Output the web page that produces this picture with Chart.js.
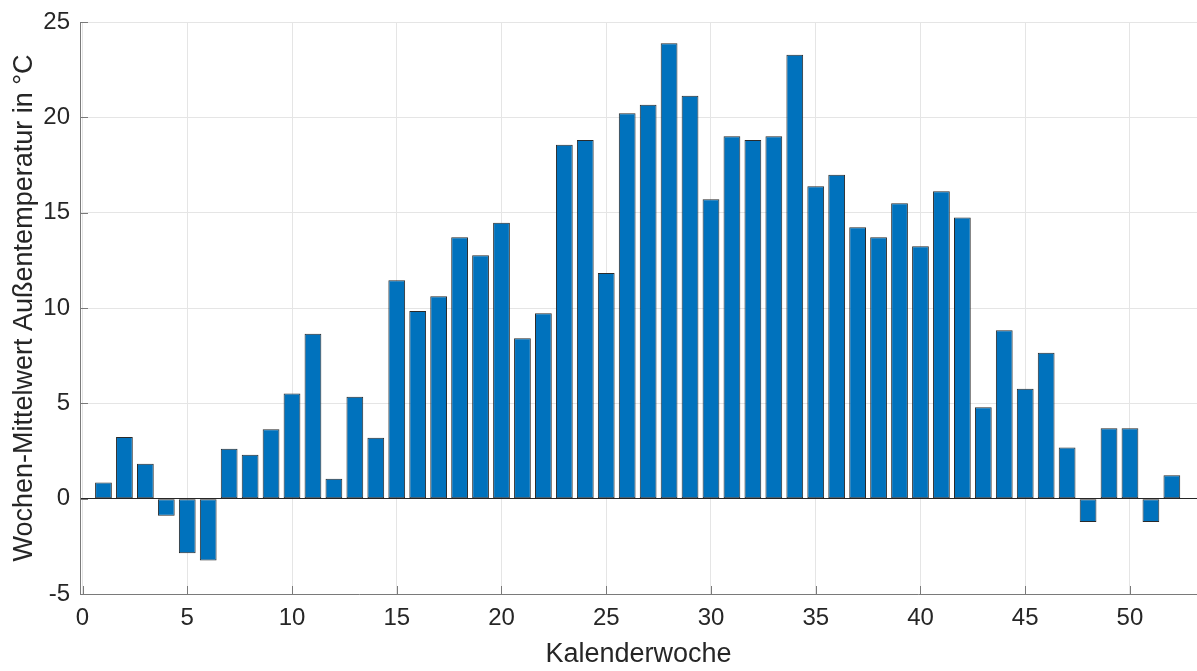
<!DOCTYPE html>
<html>
<head>
<meta charset="utf-8">
<script src="https://cdn.jsdelivr.net/npm/chart.js@4"></script>
<style>
  html, body { margin: 0; padding: 0; background: #fff; }
  #wrap { width: 1197px; height: 671px; }
</style>
</head>
<body>
<div id="wrap"><canvas id="temp"></canvas></div>
<script>
// Kalenderwochen 1..52
const weeks = [1,2,3,4,5,6,7,8,9,10,11,12,13,14,15,16,17,18,19,20,21,22,23,24,25,26,
  27,28,29,30,31,32,33,34,35,36,37,38,39,40,41,42,43,44,45,46,47,48,49,50,51,52];
// Wochen-Mittelwert Außentemperatur in °C
const temps = [0.85,3.24,1.83,-0.89,-2.86,-3.24,2.62,2.30,3.64,5.52,8.65,1.05,5.34,3.20,11.45,
  9.84,10.62,13.71,12.77,14.47,8.41,9.73,18.56,18.81,11.83,20.21,20.66,23.88,21.13,15.70,
  19.01,18.81,19.01,23.28,16.39,16.99,14.24,13.71,15.50,13.24,16.12,14.74,4.79,8.83,5.77,
  7.65,2.68,-1.23,3.69,3.69,-1.23,1.23];
const xTicks = [0,5,10,15,20,25,30,35,40,45,50];
const yTicks = [-5,0,5,10,15,20,25];

const font = "'Liberation Sans', Arial, Helvetica, sans-serif";

// MATLAB-artige Ticks nach innen
const innerTicks = {
  id: 'innerTicks',
  afterDatasetsDraw(chart) {
    const { ctx, chartArea, scales } = chart;
    ctx.save();
    ctx.strokeStyle = '#7a7a7a';
    ctx.lineWidth = 1;
    ctx.beginPath();
    xTicks.forEach(v => {
      const x = Math.round(scales.x.getPixelForValue(v)) + 0.5;
      ctx.moveTo(x, chartArea.bottom);
      ctx.lineTo(x, chartArea.bottom - 8);
    });
    yTicks.forEach(v => {
      const y = Math.round(scales.y.getPixelForValue(v)) + 0.5;
      ctx.moveTo(chartArea.left, y);
      ctx.lineTo(chartArea.left + 8, y);
    });
    ctx.stroke();
    ctx.restore();
  }
};

new Chart(document.getElementById('temp'), {
  type: 'bar',
  data: {
    datasets: [{
      data: weeks.map((w, i) => ({ x: w, y: temps[i] })),
      backgroundColor: '#0072BD',
      borderColor: '#2a2a2a',
      borderWidth: 1,
      borderSkipped: false,
      barPercentage: 0.8,
      categoryPercentage: 1.0
    }]
  },
  options: {
    responsive: true,
    maintainAspectRatio: false,
    animation: false,
    layout: { padding: { top: 14, right: 0, left: 0, bottom: 0 } },
    plugins: { legend: { display: false }, tooltip: { enabled: false } },
    scales: {
      x: {
        type: 'linear',
        offset: false,
        min: -0.12,
        max: 53.2,
        afterBuildTicks: s => { s.ticks = xTicks.map(v => ({ value: v })); },
        afterFit: s => { s.height = 77; },
        grid: { color: '#e5e5e5', drawTicks: false, offset: false },
        border: { color: '#7a7a7a' },
        ticks: { color: '#262626', font: { family: font, size: 24 }, padding: 10, maxRotation: 0 },
        title: { display: true, text: 'Kalenderwoche', color: '#262626',
                 font: { family: font, size: 27 }, padding: { top: 2, bottom: 0 } }
      },
      y: {
        min: -5,
        max: 25,
        afterBuildTicks: s => { s.ticks = yTicks.map(v => ({ value: v })); },
        afterFit: s => { s.width = 80; },
        grid: {
          color: c => c.tick && c.tick.value === 0 ? '#262626' : '#e5e5e5',
          drawTicks: false
        },
        border: { color: '#7a7a7a' },
        ticks: { color: '#262626', font: { family: font, size: 24, lineHeight: 1 }, padding: 10 },
        title: { display: true, text: 'Wochen-Mittelwert Außentemperatur in °C', color: '#262626',
                 font: { family: font, size: 27 }, padding: { top: 8, bottom: 0 } }
      }
    }
  },
  plugins: [innerTicks]
});
</script>
</body>
</html>
